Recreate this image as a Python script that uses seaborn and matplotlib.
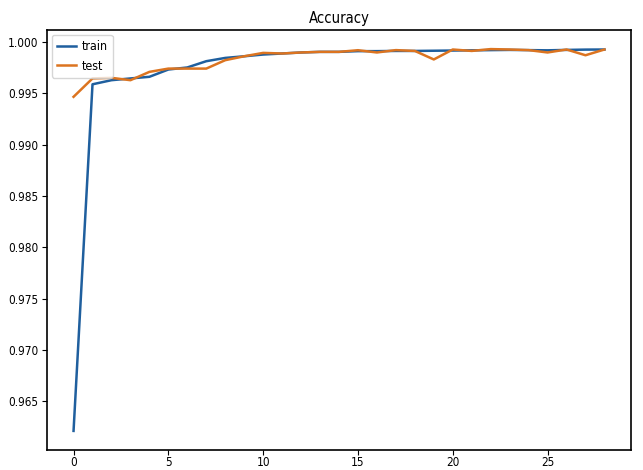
import matplotlib
matplotlib.use("Agg")
import matplotlib.pyplot as plt
import seaborn as sns
import pandas as pd
from matplotlib import font_manager

epochs = list(range(29))
train = [0.9621, 0.99587, 0.99627, 0.99644, 0.9966, 0.99731, 0.99751, 0.99812, 0.99844, 0.9986,
         0.99877, 0.99887, 0.99897, 0.99903, 0.99903, 0.9991, 0.9991, 0.99912, 0.99912, 0.99914,
         0.99916, 0.99918, 0.9992, 0.99922, 0.9992, 0.99918, 0.99922, 0.99925, 0.99926]
test = [0.99465, 0.99644, 0.9965, 0.99627, 0.99708, 0.9974, 0.9974, 0.9974, 0.99822, 0.9986,
        0.99893, 0.99887, 0.99897, 0.99903, 0.99903, 0.99919, 0.99897, 0.9992, 0.99912, 0.99829,
        0.99926, 0.99912, 0.9993, 0.99926, 0.9992, 0.99897, 0.99926, 0.9987, 0.99926]
series_names = ["train", "test"]
colors = ["#1f5f9e", "#dc7420"]
title = "Accuracy"
xticks = [0, 5, 10, 15, 20, 25]
yticks = [0.965, 0.970, 0.975, 0.980, 0.985, 0.990, 0.995, 1.000]

# pick a narrow font if one is installed
fam, stretch, fs = "DejaVu Sans", "normal", 8.0
ttf = font_manager.fontManager.ttflist
narrow = [f for f in ttf if "LiberationSansNarrow-Regular" in f.fname]
cond = [f for f in ttf if "DejaVuSansCondensed.ttf" in f.fname]
if narrow:
    fam, stretch, fs = narrow[0].name, narrow[0].stretch, 9.5
elif cond:
    fam, stretch, fs = cond[0].name, cond[0].stretch, 8.5
plt.rcParams["font.family"] = [fam, "DejaVu Sans"]
plt.rcParams["font.stretch"] = stretch

df = pd.DataFrame({
    "epoch": epochs * 2,
    "acc": train + test,
    "series": [series_names[0]] * len(train) + [series_names[1]] * len(test),
})

fig = plt.figure(figsize=(6.43, 4.70), dpi=100)
ax = fig.add_axes([47 / 643, 20 / 470, 584 / 643, 420 / 470])
sns.lineplot(data=df, x="epoch", y="acc", hue="series", palette=colors, ax=ax, linewidth=1.8)
ax.set_xlabel("")
ax.set_ylabel("")
ax.set_title(title, fontsize=fs * 1.25, pad=5)
ax.set_xticks(xticks)
ax.set_yticks(yticks)
ax.yaxis.set_major_formatter(matplotlib.ticker.FormatStrFormatter("%.3f"))
ax.tick_params(labelsize=fs, length=3.5)
ax.tick_params(axis="x", pad=1)
ax.tick_params(axis="y", pad=2.5)
for s in ax.spines.values():
    s.set_linewidth(1.2)
ax.legend(loc="upper left", fontsize=fs * 1.05, handlelength=1.5, borderpad=0.4,
          labelspacing=0.55, handletextpad=0.5, borderaxespad=0.4)
fig.savefig("out.png", dpi=100)
